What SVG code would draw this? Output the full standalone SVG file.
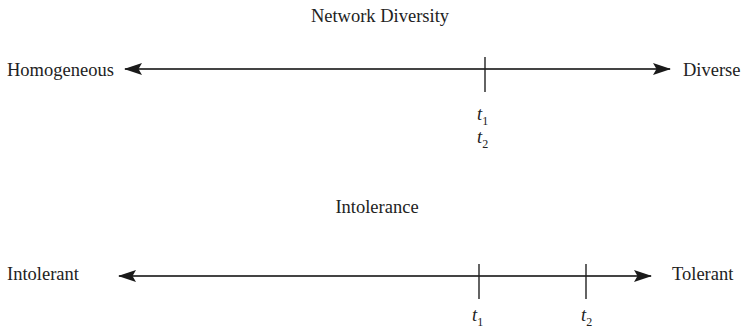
<svg xmlns="http://www.w3.org/2000/svg" width="741" height="331" viewBox="0 0 741 331">
<style>
text{font-family:'Liberation Serif','Times New Roman',serif;fill:#222;font-size:18.5px}
.t{font-style:italic;font-size:18.5px}
.sub{font-style:normal;font-size:12px}
.axis{stroke:#444;stroke-width:1.8;fill:none}
.tick{stroke:#222;stroke-width:1.4}
</style>
<defs>
<marker id="ah" viewBox="0 0 18 12" refX="17" refY="6" markerWidth="18" markerHeight="12" markerUnits="userSpaceOnUse" orient="auto-start-reverse">
<path d="M0,0 L18,6 L0,12 L3.5,6 z" fill="#1a1a1a"/>
</marker>
</defs>
<rect width="741" height="331" fill="#fff"/>
<g id="connectors">
<line class="axis" x1="125" y1="69" x2="670" y2="69" marker-start="url(#ah)" marker-end="url(#ah)"/>
<line class="axis" x1="119" y1="276" x2="651" y2="276" marker-start="url(#ah)" marker-end="url(#ah)"/>
</g>
<g id="diversity" font-family="Liberation Serif, serif">
<text x="380" y="22" text-anchor="middle">Network Diversity</text>
<text x="7" y="76">Homogeneous</text>
<text x="683" y="76">Diverse</text>
<line class="tick" x1="485" y1="57" x2="485" y2="92"/>
<text class="t" x="477" y="120">t<tspan class="sub" dy="5">1</tspan></text>
<text class="t" x="477" y="143">t<tspan class="sub" dy="5">2</tspan></text>
</g>
<g id="intolerance" font-family="Liberation Serif, serif">
<text x="377" y="213" text-anchor="middle">Intolerance</text>
<text x="7" y="280">Intolerant</text>
<text x="672" y="280">Tolerant</text>
<line class="tick" x1="479" y1="264" x2="479" y2="299"/>
<line class="tick" x1="586" y1="264" x2="586" y2="299"/>
<text class="t" x="472" y="321">t<tspan class="sub" dy="5">1</tspan></text>
<text class="t" x="581" y="321">t<tspan class="sub" dy="5">2</tspan></text>
</g>
</svg>
